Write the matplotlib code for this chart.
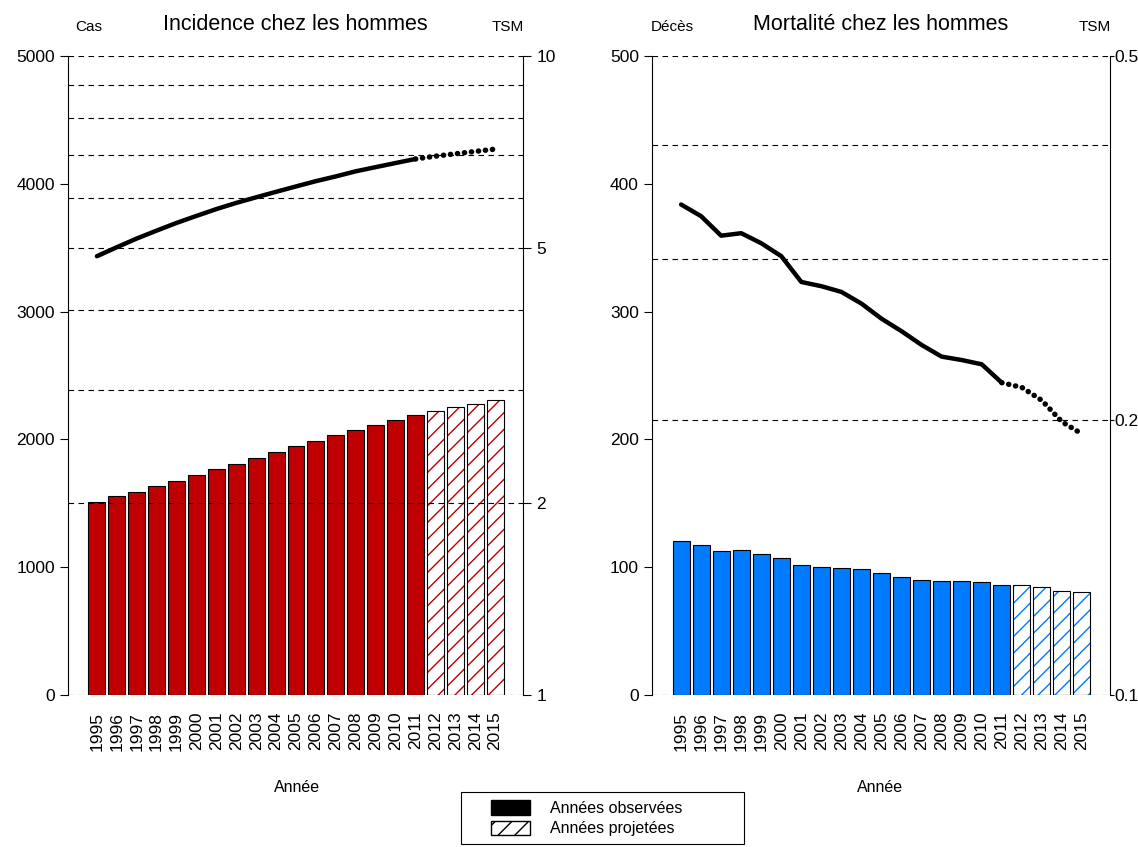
import numpy as np
import matplotlib
matplotlib.use('Agg')
import matplotlib.pyplot as plt
from matplotlib.patches import Patch, Rectangle
from matplotlib.legend_handler import HandlerPatch
from matplotlib.ticker import FixedLocator, NullFormatter

plt.rcParams['font.family'] = ['Liberation Sans', 'DejaVu Sans']
plt.rcParams['hatch.linewidth'] = 1.0

years = list(range(1995, 2016))
n_obs = 17  # 1995-2011 observed, 2012-2015 projected

cas = [1513, 1557, 1591, 1635, 1677, 1721, 1766, 1810, 1857, 1904, 1951,
       1990, 2034, 2073, 2115, 2154, 2193, 2222, 2251, 2280, 2306]
tsm_inc = [4.86, 5.02, 5.18, 5.33, 5.48, 5.62, 5.76, 5.89, 6.01, 6.13, 6.25,
           6.37, 6.48, 6.60, 6.70, 6.80, 6.90, 6.97, 7.03, 7.09, 7.15]

deces = [120.2, 117.6, 112.4, 113.5, 110.3, 107.5, 101.5, 99.9, 99.4, 98.3, 95.2,
         92.3, 90.2, 89.4, 89.4, 88.4, 86.3, 86.3, 84.2, 81.4, 80.6]
tsm_mort = [0.344, 0.334, 0.318, 0.320, 0.312, 0.302, 0.283, 0.280, 0.276, 0.268, 0.258,
            0.250, 0.2415, 0.2345, 0.2325, 0.230, 0.2196, 0.217, 0.210, 0.199, 0.193]

RED = '#BF0000'
BLUE = '#007AFF'
TICK_FS = 12.5


def panel(rect, counts, tsm, color, title, left_label, ylim, yticks,
          tsm_lim, tsm_major, tsm_minor, tsm_labels, rpad):
	ax = fig.add_axes(rect)
	x = np.arange(len(years))
	c_obs = counts[:n_obs]
	c_proj = counts[n_obs:]
	ax.bar(x[:n_obs], c_obs, width=0.85, color=color, edgecolor='black', linewidth=0.8)
	# hatched projected bars: coloured hatch then a black outline on top
	ax.bar(x[n_obs:], c_proj, width=0.85, color='white', edgecolor=color,
	       hatch='//', linewidth=0)
	ax.bar(x[n_obs:], c_proj, width=0.85, color='none', edgecolor='black', linewidth=0.8)
	ax.set_xlim(-1.45, 21.4)
	ax.set_ylim(*ylim)
	ax.set_yticks(yticks)
	ax.tick_params(axis='y', labelsize=TICK_FS, length=6, width=0.8)
	ax.set_xticks(x)
	ax.set_xticklabels([str(y) for y in years], rotation=90, fontsize=TICK_FS)
	ax.tick_params(axis='x', length=0, pad=12)
	for s in ['top', 'bottom', 'right']:
		ax.spines[s].set_visible(False)
	ax.spines['left'].set_linewidth(0.8)

	ax2 = ax.twinx()
	ax2.set_yscale('log')
	ax2.set_ylim(*tsm_lim)
	ax2.yaxis.set_major_locator(FixedLocator(tsm_major))
	ax2.yaxis.set_minor_locator(FixedLocator(tsm_minor))
	ax2.set_yticklabels(tsm_labels)
	ax2.yaxis.set_minor_formatter(NullFormatter())
	ax2.tick_params(axis='y', which='major', labelsize=TICK_FS, length=rpad[0], width=0.8, pad=rpad[1])
	ax2.tick_params(axis='y', which='minor', length=0)
	ax2.grid(True, which='both', axis='y', color='black', linestyle=(0, (5, 4)), linewidth=0.8)
	for s in ['top', 'bottom', 'left']:
		ax2.spines[s].set_visible(False)
	ax2.spines['right'].set_linewidth(0.8)

	ax2.plot(x[:n_obs], tsm[:n_obs], color='black', linewidth=3.2,
	         solid_capstyle='round', solid_joinstyle='round')
	ax2.plot(x[n_obs - 1:], tsm[n_obs - 1:], color='black', linewidth=3.9,
	         linestyle=(0, (0.05, 1.25)), dash_capstyle='round')

	ax.text(0.50, 1.041, title, transform=ax.transAxes, ha='center', va='baseline', fontsize=15.5)
	ax.text(0.045, 1.039, left_label, transform=ax.transAxes, ha='center', va='baseline', fontsize=11)
	ax.text(0.966, 1.039, 'TSM', transform=ax.transAxes, ha='center', va='baseline', fontsize=11)
	return ax


def offset_patch(legend, orig_handle, xdescent, ydescent, width, height, fontsize):
	# leave an empty gap on the left of each legend swatch
	gap = 15.5
	return Rectangle((-xdescent + gap, -ydescent), width - gap, height)


fig = plt.figure(figsize=(11.38, 8.47), dpi=100)

bottom = 1 - 695 / 847.
height = (695 - 56) / 847.

panel([68 / 1138., bottom, 455 / 1138., height], cas, tsm_inc, RED,
      'Incidence chez les hommes', 'Cas', (0, 5000), [0, 1000, 2000, 3000, 4000, 5000],
      (1, 10), [1, 2, 5, 10], [3, 4, 6, 7, 8, 9], ['1', '2', '5', '10'], (6, 3.5))
panel([652 / 1138., bottom, 458 / 1138., height], deces, tsm_mort, BLUE,
      'Mortalité chez les hommes', 'Décès', (0, 500), [0, 100, 200, 300, 400, 500],
      (0.1, 0.5), [0.1, 0.2, 0.5], [0.3, 0.4], ['0.1', '0.2', '0.5'], (3, 0.5))

fig.text(297 / 1138., 1 - 787 / 847., 'Année', ha='center', va='center', fontsize=11.5)
fig.text(880 / 1138., 1 - 787 / 847., 'Année', ha='center', va='center', fontsize=11.5)

handles = [Patch(facecolor='black', edgecolor='black'),
           Patch(facecolor='white', edgecolor='black', hatch='//')]
leg_h = 56 / 847.
leg = fig.legend(handles, ['Années observées', 'Années projetées'],
                 loc='upper left', mode='expand',
                 bbox_to_anchor=(461 / 1138., 1 - 792 / 847. - leg_h, 283 / 1138., leg_h),
                 fontsize=11.5, fancybox=False, framealpha=1, edgecolor='black',
                 borderaxespad=0, handlelength=3.8, handleheight=1.05,
                 labelspacing=0.3, handletextpad=1.3, borderpad=0.5,
                 handler_map={Patch: HandlerPatch(patch_func=offset_patch)})
leg.get_frame().set_linewidth(0.8)

plt.savefig('out.png', dpi=100)
plt.close()
